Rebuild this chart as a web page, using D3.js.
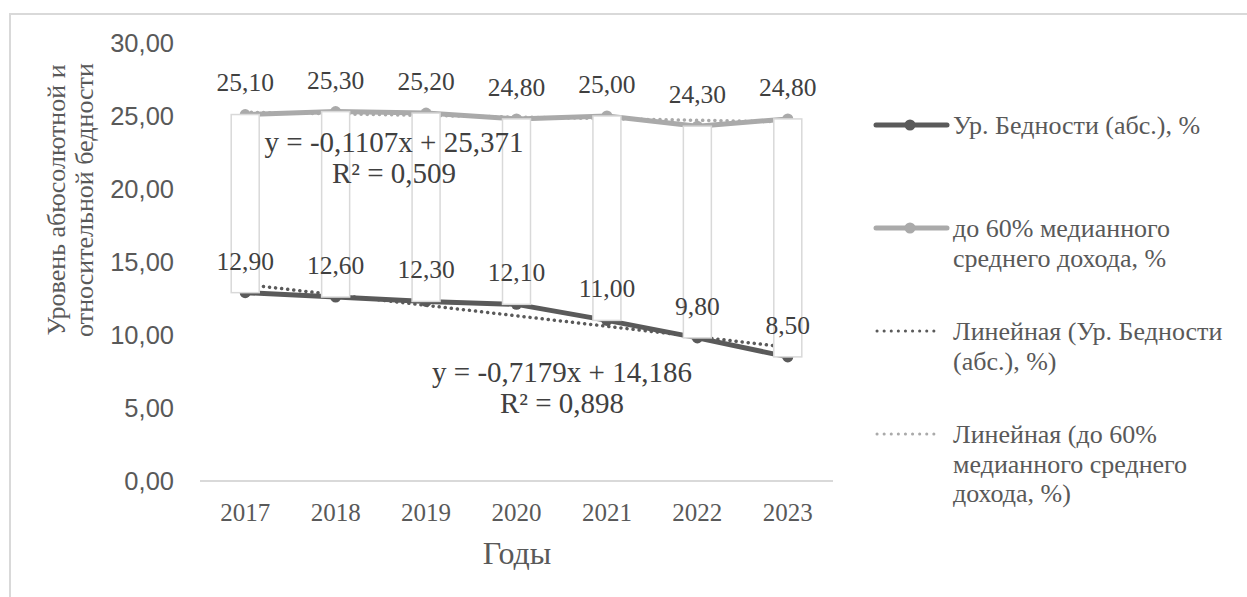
<!DOCTYPE html>
<html>
<head>
<meta charset="utf-8"/>
<title>Уровень бедности</title>
<script src="https://cdn.jsdelivr.net/npm/d3@7"></script>
<style>
    body{margin:0;background:#fff;}
</style>
</head>
<body>
<svg id="chart" width="1247" height="597" font-family="'Liberation Serif','Times New Roman',serif"></svg>
<script>
// data
var years = ["2017", "2018", "2019", "2020", "2021", "2022", "2023"];
var absPoverty = [12.9, 12.6, 12.3, 12.1, 11.0, 9.8, 8.5];
var relPoverty = [25.1, 25.3, 25.2, 24.8, 25.0, 24.3, 24.8];
var yTicks = [0, 5, 10, 15, 20, 25, 30];
var legendLabels = [
    ["Ур. Бедности (абс.), %"],
    ["до 60% медианного", "среднего дохода, %"],
    ["Линейная (Ур. Бедности", "(абс.), %)"],
    ["Линейная (до 60%", "медианного среднего", "дохода, %)"]
];

var darkCol = "#5a5a5a", lightCol = "#aaaaaa", textCol = "#404040", axisText = "#595959";
var serif = "'Liberation Serif','Times New Roman',serif";
var sans = "'Liberation Sans',Arial,sans-serif";

var svg = d3.select("#chart");
var plot = {left: 200, right: 833, top: 43, bottom: 481};

// outer chart border
svg.append("rect").attr("x", 10).attr("y", 14).attr("width", 1260).attr("height", 620)
    .attr("fill", "none").attr("stroke", "#d9d9d9").attr("stroke-width", 2);

var x = d3.scaleBand().domain(years).range([plot.left, plot.right]);
var y = d3.scaleLinear().domain([0, 30]).range([plot.bottom, plot.top]);
var cx = function(d, i){ return x(years[i]) + x.bandwidth() / 2; };

function fmt(v, n){ return v.toFixed(n).replace(".", ","); }

// linear trend (least squares on 1..n)
function trend(vals){
    var n = vals.length, xs = d3.range(1, n + 1);
    var mx = d3.mean(xs), my = d3.mean(vals);
    var sxy = d3.sum(xs, function(t, i){ return (t - mx) * (vals[i] - my); });
    var sxx = d3.sum(xs, function(t){ return (t - mx) * (t - mx); });
    var b = sxy / sxx, a = my - b * mx;
    var ssTot = d3.sum(vals, function(v){ return (v - my) * (v - my); });
    var ssRes = d3.sum(vals, function(v, i){ var f = a + b * xs[i]; return (v - f) * (v - f); });
    return {b: b, a: a, r2: 1 - ssRes / ssTot, fit: xs.map(function(t){ return a + b * t; })};
}
var tAbs = trend(absPoverty), tRel = trend(relPoverty);

// x axis line
svg.append("line").attr("x1", plot.left).attr("x2", plot.right)
    .attr("y1", y(0)).attr("y2", y(0)).attr("stroke", "#d9d9d9").attr("stroke-width", 2);

// y tick labels
svg.append("g").selectAll("text").data(yTicks).enter().append("text")
    .attr("x", 174).attr("y", function(d){ return y(d); }).attr("dy", "0.35em")
    .attr("text-anchor", "end").attr("font-family", sans).attr("font-size", 25.5).attr("fill", axisText)
    .text(function(d){ return fmt(d, 2); });

// x tick labels
svg.append("g").selectAll("text").data(years).enter().append("text")
    .attr("x", function(d){ return x(d) + x.bandwidth() / 2; }).attr("y", 521)
    .attr("text-anchor", "middle").attr("font-family", serif).attr("font-size", 25).attr("fill", axisText)
    .text(function(d){ return d; });

// axis titles
svg.append("text").attr("x", 517).attr("y", 564).attr("text-anchor", "middle")
    .attr("font-family", serif).attr("font-size", 32).attr("fill", axisText).text("Годы");
var yt = svg.append("text").attr("transform", "translate(65,200) rotate(-90)")
    .attr("text-anchor", "middle").attr("font-family", serif).attr("font-size", 26).attr("fill", axisText);
yt.append("tspan").attr("x", 0).attr("dy", 0).text("Уровень абюсолютной и");
yt.append("tspan").attr("x", 0).attr("dy", 28).text("относительной бедности");

var line = d3.line().x(cx).y(function(d){ return y(d); });

// series lines + markers
function drawSeries(vals, col){
    svg.append("path").datum(vals).attr("d", line).attr("fill", "none")
        .attr("stroke", col).attr("stroke-width", 5).attr("stroke-linejoin", "round");
    svg.append("g").selectAll("circle").data(vals).enter().append("circle")
        .attr("cx", cx).attr("cy", function(d){ return y(d); }).attr("r", 5.5).attr("fill", col);
}
drawSeries(relPoverty, lightCol);
drawSeries(absPoverty, darkCol);

// trendlines
function drawTrend(t, col){
    svg.append("path").datum(t.fit).attr("d", line).attr("fill", "none")
        .attr("stroke", col).attr("stroke-width", 3.5).attr("stroke-linecap", "round")
        .attr("stroke-dasharray", "0.1 6");
}
drawTrend(tRel, lightCol);
drawTrend(tAbs, darkCol);

// up-down bars (drawn over the lines)
svg.append("g").selectAll("rect").data(years).enter().append("rect")
    .attr("x", function(d){ return x(d) + x.bandwidth() / 2 - 14; })
    .attr("width", 28)
    .attr("y", function(d, i){ return y(Math.max(relPoverty[i], absPoverty[i])); })
    .attr("height", function(d, i){ return y(absPoverty[i]) - y(relPoverty[i]); })
    .attr("fill", "#fff").attr("stroke", "#d9d9d9").attr("stroke-width", 1.5);

// data labels
function drawLabels(vals){
    svg.append("g").selectAll("text").data(vals).enter().append("text")
        .attr("x", cx).attr("y", function(d){ return y(d) - 32; }).attr("dy", "0.35em")
        .attr("text-anchor", "middle").attr("font-family", serif).attr("font-size", 25.5).attr("fill", textCol)
        .text(function(d){ return fmt(d, 2); });
}
drawLabels(relPoverty);
drawLabels(absPoverty);

// trend equations
function drawEq(t, px, py){
    var g = svg.append("text").attr("text-anchor", "middle").attr("font-family", serif)
        .attr("font-size", 29).attr("fill", textCol);
    g.append("tspan").attr("x", px).attr("y", py)
        .text("y = " + fmt(t.b, 4) + "x + " + fmt(t.a, 3));
    g.append("tspan").attr("x", px).attr("y", py + 31).text("R² = " + fmt(t.r2, 3));
}
drawEq(tRel, 394, 152);
drawEq(tAbs, 562, 382);

// legend
var legTop = 125, legStep = 103;
var leg = svg.append("g");
legendLabels.forEach(function(lines, i){
    var ly = legTop + i * legStep;
    var col = (i % 2 === 0) ? darkCol : lightCol;
    if (i < 2){
        leg.append("line").attr("x1", 876).attr("x2", 947).attr("y1", ly).attr("y2", ly)
            .attr("stroke", col).attr("stroke-width", 5).attr("stroke-linecap", "round");
        leg.append("circle").attr("cx", 910).attr("cy", ly).attr("r", 5.5).attr("fill", col);
    } else {
        leg.append("line").attr("x1", 877).attr("x2", 940).attr("y1", ly).attr("y2", ly)
            .attr("stroke", col).attr("stroke-width", 3).attr("stroke-linecap", "round")
            .attr("stroke-dasharray", "0.1 7");
    }
    var t = leg.append("text").attr("font-family", serif).attr("font-size", 26).attr("fill", axisText);
    lines.forEach(function(s, k){
        t.append("tspan").attr("x", 953).attr("y", ly + k * 29.5).attr("dy", "0.35em").text(s);
    });
});
</script>
</body>
</html>
